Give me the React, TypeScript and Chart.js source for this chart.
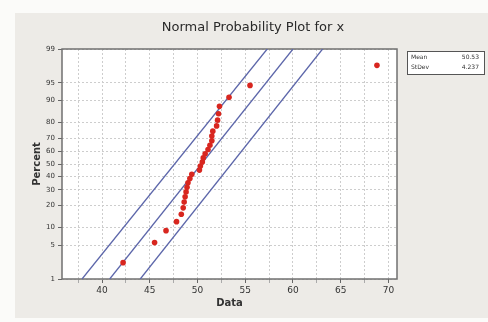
import React, { useEffect, useRef } from "react";
import { Chart, registerables } from "chart.js";

Chart.register(...registerables);

// Sorted sample values (Data axis)
const dataValues = [
  42.2, 45.5, 46.7, 47.8, 48.3, 48.5, 48.6, 48.7, 48.8, 48.9,
  49.0, 49.2, 49.4, 50.2, 50.3, 50.5, 50.6, 50.8, 51.1, 51.3,
  51.5, 51.5, 51.6, 52.0, 52.1, 52.2, 52.3, 53.3, 55.5, 68.8,
];
// Plotted percent for each value
const percentValues = [
  2.3, 5.59, 8.88, 12.17, 15.46, 18.75, 22.04, 25.33, 28.62, 31.91,
  35.2, 38.49, 41.78, 45.07, 48.36, 51.64, 54.93, 58.22, 61.51, 64.8,
  68.09, 71.38, 74.67, 77.96, 81.25, 84.54, 87.83, 91.12, 94.41, 97.7,
];

// Fitted line and confidence band end points
const linePercents = [1, 99];
const fitLine = [40.8, 60.0];
const lowerBand = [37.9, 57.3];
const upperBand = [44.0, 63.1];

// Axes
const yTickPercents = [1, 5, 10, 20, 30, 40, 50, 60, 70, 80, 90, 95, 99];
const xGridTicks = [37.5, 40, 42.5, 45, 47.5, 50, 52.5, 55, 57.5, 60, 62.5, 65, 67.5, 70];
const xLabelTicks = [40, 45, 50, 55, 60, 65, 70];
const xMin = 35.8;
const xMax = 70.9;

const titleText = "Normal Probability Plot for x";
const xTitle = "Data";
const yTitle = "Percent";
const statLabels = ["Mean", "StDev"];
const statValues = ["50.53", "4.237"];

const FONT = "'DejaVu Sans', Verdana, sans-serif";

// inverse normal CDF (Acklam)
function probit(p: number): number {
  const a = [-3.969683028665376e1, 2.209460984245205e2, -2.759285104469687e2, 1.38357751867269e2, -3.066479806614716e1, 2.506628277459239];
  const b = [-5.447609879822406e1, 1.615858368580409e2, -1.556989798598866e2, 6.680131188771972e1, -1.328068155288572e1];
  const c = [-7.784894002430293e-3, -3.223964580411365e-1, -2.400758277161838, -2.549732539343734, 4.374664141464968, 2.938163982698783];
  const d = [7.784695709041462e-3, 3.224671290700398e-1, 2.445134137142996, 3.754408661907416];
  const pl = 0.02425;
  let q: number, r: number;
  if (p < pl) {
    q = Math.sqrt(-2 * Math.log(p));
    return (((((c[0] * q + c[1]) * q + c[2]) * q + c[3]) * q + c[4]) * q + c[5]) / ((((d[0] * q + d[1]) * q + d[2]) * q + d[3]) * q + 1);
  }
  if (p <= 1 - pl) {
    q = p - 0.5;
    r = q * q;
    return ((((((a[0] * r + a[1]) * r + a[2]) * r + a[3]) * r + a[4]) * r + a[5]) * q) / (((((b[0] * r + b[1]) * r + b[2]) * r + b[3]) * r + b[4]) * r + 1);
  }
  q = Math.sqrt(-2 * Math.log(1 - p));
  return -(((((c[0] * q + c[1]) * q + c[2]) * q + c[3]) * q + c[4]) * q + c[5]) / ((((d[0] * q + d[1]) * q + d[2]) * q + d[3]) * q + 1);
}

const decorPlugin = {
  id: "decor",
  beforeDraw(chart: any) {
    const { ctx, width, height, chartArea: a } = chart;
    ctx.save();
    ctx.fillStyle = "#fbfbf9";
    ctx.fillRect(0, 0, width, height);
    ctx.fillStyle = "#edebe7";
    ctx.fillRect(15, 13, width - 15, height - 17);
    ctx.fillStyle = "#ffffff";
    ctx.fillRect(a.left, a.top, a.right - a.left, a.bottom - a.top);
    ctx.restore();
  },
  beforeDatasetsDraw(chart: any) {
    const { ctx, chartArea: a } = chart;
    ctx.save();
    ctx.strokeStyle = "#707070";
    ctx.lineWidth = 1.5;
    ctx.strokeRect(a.left, a.top, a.right - a.left, a.bottom - a.top);
    ctx.restore();
  },
  afterDraw(chart: any) {
    const { ctx, chartArea: a } = chart;
    ctx.save();
    // title
    ctx.fillStyle = "#2a2a2a";
    ctx.font = `13px ${FONT}`;
    ctx.textAlign = "center";
    ctx.textBaseline = "middle";
    ctx.fillText(titleText, 253, 28);
    // stats box
    const bx = a.right + 10;
    const by = a.top + 2;
    const bw = 77;
    const bh = 23;
    ctx.fillStyle = "#ffffff";
    ctx.fillRect(bx, by, bw, bh);
    ctx.strokeStyle = "#555555";
    ctx.lineWidth = 1;
    ctx.strokeRect(bx + 0.5, by + 0.5, bw, bh);
    ctx.font = `6px ${FONT}`;
    ctx.fillStyle = "#333333";
    statLabels.forEach((lab, i) => {
      const yy = by + 6 + i * 10;
      ctx.textAlign = "left";
      ctx.fillText(lab, bx + 4, yy);
      ctx.textAlign = "right";
      ctx.fillText(statValues[i], bx + bw - 5, yy);
    });
    ctx.restore();
  },
};

export default function App() {
  const ref = useRef<HTMLCanvasElement | null>(null);

  useEffect(() => {
    if (!ref.current) return;
    const lineColor = "#5c66aa";
    const mk = (xs: number[]) => xs.map((x, i) => ({ x, y: probit(linePercents[i] / 100) }));
    const chart = new Chart(ref.current, {
      type: "scatter",
      data: {
        datasets: [
          {
            label: "Data",
            data: dataValues.map((x, i) => ({ x, y: probit(percentValues[i] / 100) })),
            backgroundColor: "#d8261f",
            borderColor: "#d8261f",
            pointRadius: 2.8,
            pointBorderWidth: 0,
          },
          { label: "Fit", data: mk(fitLine), showLine: true, pointRadius: 0, borderColor: lineColor, borderWidth: 1.3 },
          { label: "Lower", data: mk(lowerBand), showLine: true, pointRadius: 0, borderColor: lineColor, borderWidth: 1.3 },
          { label: "Upper", data: mk(upperBand), showLine: true, pointRadius: 0, borderColor: lineColor, borderWidth: 1.3 },
        ],
      } as any,
      options: {
        responsive: false,
        animation: false,
        events: [],
        layout: { padding: { left: 0, right: 91, top: 49, bottom: 0 } },
        plugins: { legend: { display: false }, title: { display: false }, tooltip: { enabled: false } },
        scales: {
          x: {
            type: "linear",
            min: xMin,
            max: xMax,
            afterBuildTicks: (s: any) => {
              s.ticks = xGridTicks.map((v) => ({ value: v }));
            },
            afterFit: (s: any) => {
              s.height = 43;
            },
            ticks: {
              autoSkip: false,
              maxRotation: 0,
              padding: 2,
              color: "#333",
              font: { family: FONT, size: 9 },
              callback: (v: any) => (xLabelTicks.includes(Number(v)) ? String(v) : ""),
            },
            grid: {
              color: "#cdcdcd",
              tickColor: (c: any) => (xLabelTicks.includes(c.tick?.value) ? "#666" : "#aaa"),
              tickLength: 4,
              lineWidth: 1,
            },
            border: { display: false, dash: [2, 2] },
            title: { display: true, text: xTitle, color: "#333", font: { family: FONT, size: 10, weight: "bold" }, padding: { top: 0, bottom: 13 } },
          },
          y: {
            type: "linear",
            min: probit(0.01),
            max: probit(0.99),
            afterBuildTicks: (s: any) => {
              s.ticks = yTickPercents.map((p) => ({ value: probit(p / 100) }));
            },
            afterFit: (s: any) => {
              s.width = 62;
            },
            ticks: {
              autoSkip: false,
              padding: 3,
              color: "#333",
              font: { family: FONT, size: 7 },
              callback: (_v: any, i: number) => String(yTickPercents[i]),
            },
            grid: { color: "#cdcdcd", tickColor: "#666", tickLength: 4, lineWidth: 1 },
            border: { display: false, dash: [2, 2] },
            title: { display: true, text: yTitle, color: "#333", font: { family: FONT, size: 10, weight: "bold" }, padding: { top: 31, bottom: 0 } },
          },
        },
      } as any,
      plugins: [decorPlugin],
    });
    return () => chart.destroy();
  }, []);

  return (
    <div style={{ position: "absolute", left: 0, top: 0, width: 488, height: 322 }}>
      <canvas ref={ref} width={488} height={322} style={{ display: "block" }} />
    </div>
  );
}
